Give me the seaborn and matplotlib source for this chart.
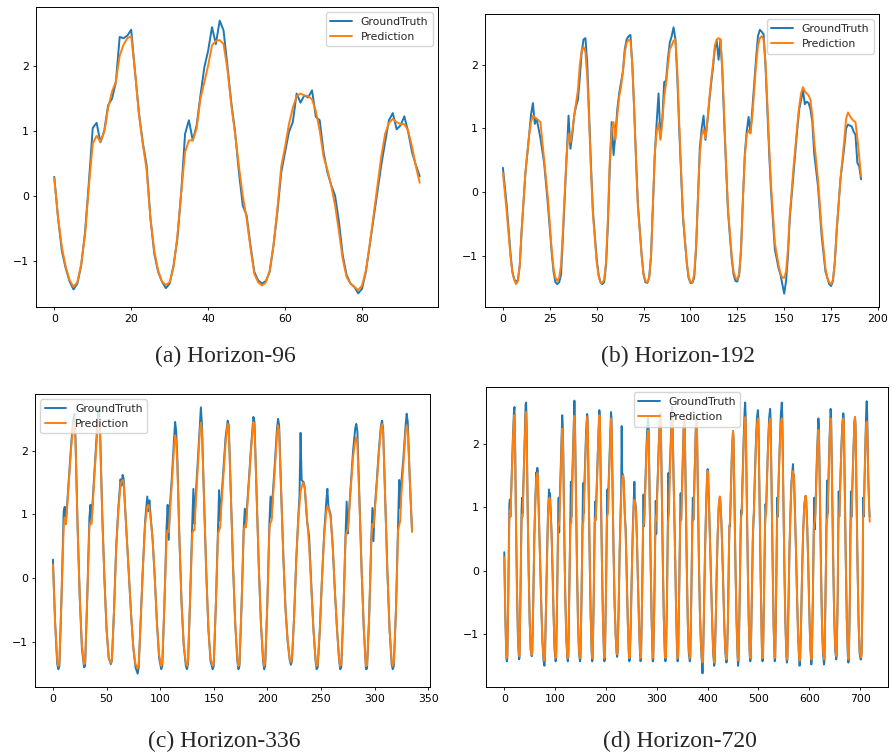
import numpy as np
import pandas as pd
import seaborn as sns
import matplotlib
matplotlib.use("Agg")
import matplotlib.pyplot as plt

sns.set_style("ticks")
plt.rcParams['font.family'] = ['DejaVu Sans']

_BLUE = '#1f77b4'
_ORANGE = '#ff7f0e'

# (a) Horizon-96, one value per step
A_TRUE = [0.29, -0.35, -0.86, -1.12, -1.32, -1.44, -1.35, -1.07, -0.56, 0.21,
          1.04, 1.12, 0.82, 1.0, 1.39, 1.49, 1.74, 2.44, 2.42, 2.46,
          2.55, 1.9, 1.28, 0.82, 0.47, -0.35, -0.89, -1.17, -1.32, -1.42,
          -1.35, -1.07, -0.66, 0.05, 0.95, 1.16, 0.85, 1.08, 1.54, 1.97,
          2.23, 2.59, 2.33, 2.69, 2.54, 2.0, 1.44, 0.98, 0.36, -0.15,
          -0.3, -0.76, -1.17, -1.3, -1.35, -1.31, -1.17, -0.76, -0.25, 0.36,
          0.67, 0.98, 1.13, 1.57, 1.43, 1.54, 1.51, 1.62, 1.21, 1.16,
          0.67, 0.36, 0.16, 0.0, -0.4, -0.92, -1.22, -1.35, -1.4, -1.5,
          -1.43, -1.17, -0.76, -0.35, 0.06, 0.47, 0.82, 1.16, 1.27, 1.02,
          1.08, 1.22, 0.98, 0.67, 0.47, 0.3]
A_PRED = [0.27, -0.35, -0.8, -1.1, -1.3, -1.4, -1.33, -1.05, -0.6, 0.15,
          0.8, 0.92, 0.83, 0.98, 1.35, 1.6, 1.75, 2.15, 2.32, 2.42,
          2.45, 1.9, 1.25, 0.8, 0.4, -0.35, -0.85, -1.15, -1.32, -1.37,
          -1.33, -1.1, -0.62, 0.05, 0.67, 0.85, 0.85, 1.03, 1.49, 1.74,
          2.0, 2.31, 2.38, 2.39, 2.33, 1.95, 1.4, 0.95, 0.45, 0.0,
          -0.35, -0.8, -1.2, -1.33, -1.38, -1.33, -1.15, -0.75, -0.2, 0.45,
          0.75, 1.1, 1.35, 1.53, 1.57, 1.54, 1.53, 1.48, 1.3, 1.0,
          0.6, 0.4, 0.15, -0.15, -0.55, -0.98, -1.25, -1.35, -1.4, -1.45,
          -1.38, -1.15, -0.75, -0.3, 0.15, 0.6, 0.95, 1.12, 1.18, 1.13,
          1.1, 1.1, 1.0, 0.75, 0.45, 0.2]

# (b) Horizon-192, (step, value) points
B_TRUE = [(0, 0.38), (2, -0.2), (4, -0.95), (5, -1.25), (6, -1.37), (7, -1.42), (8, -1.38), (9, -1.15),
          (10, -0.6), (12, 0.3), (14, 0.9), (15, 1.22), (16, 1.4), (17, 1.07), (18, 1.15), (19, 1.0),
          (20, 0.85), (22, 0.45), (24, -0.2), (26, -0.95), (27, -1.25), (28, -1.42), (29, -1.45),
          (30, -1.42), (31, -1.3), (32, -0.7), (34, 0.55), (35, 1.2), (36, 0.68), (37, 0.9), (38, 1.2),
          (39, 1.35), (40, 1.45), (41, 1.8), (42, 2.2), (43, 2.4), (44, 2.42), (45, 2.0), (46, 1.2),
          (47, 0.4), (48, -0.3), (50, -1.05), (51, -1.3), (52, -1.42), (53, -1.45), (54, -1.42),
          (55, -1.15), (56, -0.5), (57, 0.4), (58, 1.1), (59, 0.58), (60, 0.9), (61, 1.3), (62, 1.55),
          (63, 1.73), (64, 1.9), (65, 2.25), (66, 2.4), (67, 2.45), (68, 2.47), (69, 2.0), (70, 1.3),
          (71, 0.5), (72, -0.2), (74, -1.0), (75, -1.3), (76, -1.42), (77, -1.43), (78, -1.35),
          (79, -1.0), (80, -0.2), (81, 0.6), (82, 1.1), (83, 1.55), (84, 0.85), (85, 1.15), (86, 1.73),
          (87, 1.75), (88, 2.1), (89, 2.35), (90, 2.45), (91, 2.59), (92, 2.4), (93, 1.8), (94, 1.0),
          (95, 0.3), (96, -0.4), (98, -1.1), (99, -1.35), (100, -1.43), (101, -1.43), (102, -1.35),
          (103, -0.9), (104, -0.1), (105, 0.7), (106, 1.0), (107, 1.2), (108, 0.82), (109, 1.1),
          (110, 1.4), (111, 1.7), (112, 1.95), (113, 2.25), (114, 2.38), (115, 2.08), (116, 2.4),
          (117, 1.9), (118, 1.1), (119, 0.4), (120, -0.3), (122, -1.05), (123, -1.3), (124, -1.4),
          (125, -1.41), (126, -1.3), (127, -0.9), (128, -0.1), (129, 0.6), (130, 0.95), (131, 1.18),
          (132, 0.93), (133, 1.3), (134, 1.7), (135, 2.1), (136, 2.45), (137, 2.55), (138, 2.52),
          (139, 2.48), (140, 2.0), (141, 1.3), (142, 0.6), (143, 0.0), (145, -0.9), (147, -1.2),
          (148, -1.3), (149, -1.45), (150, -1.6), (151, -1.4), (152, -1.0), (153, -0.4), (155, 0.3),
          (157, 1.0), (158, 1.3), (159, 1.45), (160, 1.6), (161, 1.38), (162, 1.42), (163, 1.4),
          (164, 1.3), (165, 1.1), (166, 0.6), (168, 0.1), (170, -0.7), (172, -1.25), (173, -1.35),
          (174, -1.45), (175, -1.48), (176, -1.4), (177, -1.1), (178, -0.6), (180, 0.2), (182, 0.7),
          (183, 1.0), (184, 1.06), (186, 1.03), (187, 0.95), (188, 0.9), (189, 0.46), (190, 0.4),
          (191, 0.2)]
B_PRED = [(0, 0.3), (2, -0.3), (4, -1.0), (5, -1.25), (6, -1.38), (7, -1.45), (8, -1.4), (9, -1.15),
          (10, -0.6), (12, 0.3), (14, 0.9), (15, 1.1), (16, 1.2), (18, 1.15), (20, 1.1), (22, 0.5),
          (24, -0.1), (26, -0.9), (27, -1.2), (28, -1.35), (29, -1.4), (30, -1.35), (31, -1.15),
          (32, -0.6), (34, 0.6), (35, 0.92), (36, 0.78), (37, 0.95), (38, 1.2), (40, 1.6), (41, 2.0),
          (42, 2.22), (43, 2.28), (44, 2.2), (45, 1.8), (46, 1.1), (47, 0.3), (48, -0.35), (50, -1.1),
          (51, -1.32), (52, -1.42), (53, -1.43), (54, -1.38), (55, -1.1), (56, -0.4), (57, 0.5),
          (58, 0.98), (59, 1.1), (60, 0.82), (61, 1.2), (62, 1.5), (63, 1.65), (64, 1.9), (65, 2.2),
          (66, 2.35), (67, 2.39), (68, 2.38), (69, 2.0), (70, 1.3), (71, 0.5), (72, -0.25), (74, -1.0),
          (75, -1.3), (76, -1.4), (77, -1.42), (78, -1.35), (79, -1.0), (80, -0.2), (81, 0.6),
          (82, 0.95), (83, 1.08), (84, 0.82), (85, 1.1), (86, 1.5), (87, 1.7), (88, 2.0), (89, 2.25),
          (90, 2.3), (91, 2.38), (92, 2.4), (93, 1.9), (94, 1.1), (95, 0.35), (96, -0.35), (98, -1.1),
          (99, -1.33), (100, -1.42), (101, -1.42), (102, -1.3), (103, -0.85), (104, -0.1), (105, 0.6),
          (106, 0.9), (107, 0.98), (108, 0.85), (109, 1.1), (110, 1.45), (111, 1.75), (112, 2.0),
          (113, 2.3), (114, 2.4), (115, 2.42), (116, 2.4), (117, 1.95), (118, 1.2), (119, 0.45),
          (120, -0.25), (122, -1.0), (123, -1.25), (124, -1.35), (125, -1.38), (126, -1.28),
          (127, -0.9), (128, -0.1), (129, 0.55), (130, 0.9), (131, 0.97), (132, 0.92), (133, 1.2),
          (134, 1.6), (135, 2.0), (136, 2.3), (137, 2.42), (138, 2.45), (139, 2.4), (140, 2.05),
          (141, 1.4), (142, 0.7), (143, 0.1), (145, -0.8), (147, -1.15), (148, -1.28), (149, -1.35),
          (150, -1.35), (151, -1.25), (152, -0.9), (153, -0.35), (155, 0.4), (157, 1.05), (158, 1.35),
          (159, 1.55), (160, 1.65), (161, 1.58), (162, 1.55), (163, 1.52), (164, 1.45), (165, 1.2),
          (166, 0.8), (168, 0.2), (170, -0.6), (172, -1.2), (173, -1.35), (174, -1.42), (175, -1.45),
          (176, -1.38), (177, -1.1), (178, -0.6), (180, 0.2), (182, 0.8), (183, 1.15), (184, 1.25),
          (185, 1.2), (186, 1.15), (187, 1.12), (188, 1.1), (189, 0.85), (190, 0.55), (191, 0.25)]

# (c) Horizon-336
C_TRUE = [(0, 0.29), (2, -0.7), (4, -1.35), (5, -1.43), (6, -1.38), (8, -0.3), (10, 1.05), (11, 1.12),
          (12, 0.85), (13, 1.1), (15, 1.6), (17, 2.1), (19, 2.5), (20, 2.58), (21, 2.2), (23, 0.8),
          (25, -0.3), (27, -1.1), (29, -1.4), (30, -1.38), (32, -0.3), (34, 0.95), (35, 1.15), (36, 0.9),
          (37, 1.2), (39, 1.75), (41, 2.3), (42, 2.62), (43, 2.65), (44, 2.3), (46, 1.0), (48, 0.0),
          (50, -0.8), (52, -1.25), (54, -1.35), (55, -1.3), (57, -0.5), (59, 0.5), (61, 1.1), (63, 1.55),
          (64, 1.45), (65, 1.62), (66, 1.55), (67, 1.2), (69, 0.6), (71, 0.0), (73, -0.6), (75, -1.1),
          (77, -1.4), (79, -1.5), (80, -1.4), (82, -0.6), (84, 0.2), (86, 0.9), (88, 1.28), (89, 1.05),
          (90, 1.22), (91, 1.0), (93, 0.6), (95, 0.0), (97, -0.7), (99, -1.25), (101, -1.43),
          (102, -1.38), (104, -0.4), (106, 0.8), (107, 1.15), (108, 0.6), (109, 1.1), (111, 1.6),
          (113, 2.2), (114, 2.45), (115, 2.3), (116, 1.9), (118, 0.6), (120, -0.4), (122, -1.05),
          (124, -1.38), (125, -1.43), (126, -1.35), (128, -0.3), (130, 0.9), (131, 1.4), (132, 0.85),
          (133, 1.25), (135, 1.8), (137, 2.4), (138, 2.68), (139, 2.4), (141, 1.2), (143, 0.1),
          (145, -0.8), (147, -1.3), (149, -1.43), (150, -1.38), (152, -0.4), (154, 0.8), (155, 1.38),
          (156, 0.9), (157, 1.2), (159, 1.7), (161, 2.2), (163, 2.47), (164, 2.4), (166, 1.3),
          (168, 0.2), (170, -0.7), (172, -1.3), (173, -1.43), (174, -1.38), (176, -0.4), (178, 0.8),
          (179, 1.09), (180, 0.8), (181, 1.1), (183, 1.6), (185, 2.1), (187, 2.53), (188, 2.45),
          (190, 1.3), (192, 0.2), (194, -0.7), (196, -1.3), (197, -1.43), (198, -1.38), (200, -0.4),
          (202, 0.9), (203, 1.28), (204, 0.95), (205, 1.3), (207, 1.8), (209, 2.35), (210, 2.5),
          (211, 2.4), (213, 1.3), (215, 0.3), (217, -0.5), (219, -1.0), (221, -1.3), (222, -1.36),
          (223, -1.3), (225, -0.6), (227, 0.3), (229, 1.0), (230, 1.3), (231, 2.28), (232, 1.54),
          (234, 1.5), (235, 1.4), (237, 0.9), (239, 0.65), (241, -0.1), (243, -0.8), (245, -1.3),
          (246, -1.43), (247, -1.4), (249, -0.8), (251, 0.0), (253, 0.7), (255, 1.2), (256, 1.4),
          (257, 1.12), (259, 1.0), (261, 0.5), (263, -0.2), (265, -0.8), (267, -1.3), (268, -1.43),
          (269, -1.4), (271, -0.5), (273, 0.7), (274, 1.2), (275, 0.7), (276, 1.0), (278, 1.5),
          (280, 2.0), (282, 2.35), (283, 2.42), (284, 2.3), (286, 1.2), (288, 0.1), (290, -0.8),
          (292, -1.43), (293, -1.42), (295, -0.6), (297, 0.6), (298, 1.1), (299, 0.58), (300, 1.05),
          (302, 1.5), (304, 2.0), (306, 2.4), (307, 2.47), (308, 2.35), (310, 1.2), (312, 0.1),
          (314, -0.8), (316, -1.35), (317, -1.43), (318, -1.38), (320, -0.5), (322, 0.9), (323, 1.54),
          (324, 1.1), (325, 1.5), (327, 1.9), (329, 2.4), (330, 2.58), (331, 2.45), (333, 1.5),
          (335, 0.73)]
C_PRED = [(0, 0.21), (2, -0.7), (4, -1.3), (5, -1.38), (6, -1.33), (8, -0.3), (10, 0.8), (11, 0.95),
          (12, 0.85), (13, 1.05), (15, 1.55), (17, 2.05), (19, 2.4), (20, 2.45), (21, 2.15), (23, 0.8),
          (25, -0.3), (27, -1.05), (29, -1.35), (30, -1.33), (32, -0.3), (34, 0.8), (35, 0.88),
          (36, 0.85), (37, 1.1), (39, 1.7), (41, 2.2), (42, 2.45), (43, 2.5), (44, 2.2), (46, 0.95),
          (48, 0.0), (50, -0.8), (52, -1.25), (54, -1.33), (55, -1.28), (57, -0.5), (59, 0.45),
          (61, 1.05), (63, 1.45), (64, 1.52), (65, 1.54), (66, 1.5), (67, 1.2), (69, 0.6), (71, 0.0),
          (73, -0.6), (75, -1.1), (77, -1.35), (79, -1.42), (80, -1.35), (82, -0.6), (84, 0.2),
          (86, 0.85), (88, 1.12), (89, 1.15), (90, 1.1), (91, 0.95), (93, 0.6), (95, 0.0), (97, -0.7),
          (99, -1.2), (101, -1.38), (102, -1.33), (104, -0.4), (106, 0.65), (107, 0.75), (108, 0.72),
          (109, 1.0), (111, 1.5), (113, 2.05), (114, 2.24), (115, 2.15), (116, 1.8), (118, 0.6),
          (120, -0.4), (122, -1.05), (124, -1.33), (125, -1.38), (126, -1.3), (128, -0.3), (130, 0.7),
          (131, 0.75), (132, 0.75), (133, 1.1), (135, 1.7), (137, 2.3), (138, 2.44), (139, 2.3),
          (141, 1.2), (143, 0.1), (145, -0.8), (147, -1.25), (149, -1.38), (150, -1.33), (152, -0.4),
          (154, 0.7), (155, 0.75), (156, 0.8), (157, 1.1), (159, 1.6), (161, 2.1), (163, 2.42),
          (164, 2.35), (166, 1.3), (168, 0.2), (170, -0.7), (172, -1.25), (173, -1.38), (174, -1.33),
          (176, -0.4), (178, 0.75), (179, 0.83), (180, 0.8), (181, 1.05), (183, 1.55), (185, 2.05),
          (187, 2.45), (188, 2.4), (190, 1.3), (192, 0.2), (194, -0.7), (196, -1.25), (197, -1.38),
          (198, -1.33), (200, -0.4), (202, 0.8), (203, 0.88), (204, 0.9), (205, 1.2), (207, 1.7),
          (209, 2.25), (210, 2.4), (211, 2.3), (213, 1.3), (215, 0.3), (217, -0.5), (219, -1.0),
          (221, -1.28), (222, -1.32), (223, -1.26), (225, -0.6), (227, 0.3), (229, 0.95), (231, 1.35),
          (233, 1.5), (234, 1.48), (235, 1.4), (237, 0.95), (239, 0.5), (241, -0.15), (243, -0.8),
          (245, -1.28), (246, -1.38), (247, -1.35), (249, -0.8), (251, 0.0), (253, 0.65), (255, 1.05),
          (256, 1.12), (257, 1.1), (259, 0.95), (261, 0.5), (263, -0.2), (265, -0.8), (267, -1.28),
          (268, -1.38), (269, -1.35), (271, -0.5), (273, 0.65), (274, 0.73), (275, 0.75), (276, 0.95),
          (278, 1.45), (280, 1.9), (282, 2.15), (283, 2.21), (284, 2.1), (286, 1.15), (288, 0.1),
          (290, -0.8), (292, -1.38), (293, -1.37), (295, -0.6), (297, 0.6), (298, 0.85), (299, 0.8),
          (300, 1.0), (302, 1.45), (304, 1.95), (306, 2.35), (307, 2.42), (308, 2.3), (310, 1.2),
          (312, 0.1), (314, -0.8), (316, -1.3), (317, -1.38), (318, -1.33), (320, -0.5), (322, 0.75),
          (323, 0.83), (324, 0.9), (325, 1.3), (327, 1.8), (329, 2.3), (330, 2.4), (331, 2.3),
          (333, 1.5), (335, 0.73)]

# (d) Horizon-720: its first 336 steps are the same window as (c)
D_TRUE_TAIL = [(336, 0.3), (338, -0.6), (340, -1.3), (341, -1.43), (342, -1.38), (344, -0.4), (346, 0.8),
               (347, 1.22), (348, 0.8), (349, 1.1), (351, 1.7), (353, 2.3), (354, 2.45), (355, 2.35),
               (357, 1.2), (359, 0.1), (361, -0.8), (363, -1.3), (365, -1.43), (366, -1.38), (368, -0.4),
               (370, 0.8), (371, 1.15), (372, 0.8), (373, 1.1), (375, 1.7), (377, 2.3), (378, 2.42),
               (379, 2.3), (381, 1.2), (383, 0.1), (385, -0.7), (387, -1.2), (389, -1.5), (390, -1.62),
               (391, -1.45), (393, -0.6), (395, 0.3), (397, 1.0), (399, 1.5), (400, 1.6), (401, 1.55),
               (403, 1.0), (405, 0.4), (407, -0.2), (409, -0.8), (411, -1.3), (413, -1.5), (414, -1.45),
               (416, -0.8), (418, 0.0), (420, 0.6), (422, 1.0), (424, 1.15), (425, 1.1), (427, 0.8),
               (429, 0.3), (431, -0.3), (433, -0.9), (435, -1.3), (437, -1.45), (438, -1.42), (440, -0.8),
               (442, 0.3), (443, 0.7), (444, 0.7), (446, 1.3), (448, 1.9), (450, 2.2), (451, 2.1),
               (453, 1.0), (455, 0.0), (457, -0.8), (459, -1.35), (460, -1.5), (461, -1.42), (463, -0.5),
               (465, 0.6), (466, 0.95), (467, 0.9), (469, 1.5), (471, 2.1), (473, 2.55), (474, 2.65),
               (475, 2.4), (477, 1.2), (479, 0.1), (481, -0.8), (483, -1.35), (484, -1.43), (485, -1.38),
               (487, -0.4), (489, 0.5), (490, 0.72), (491, 0.9), (493, 1.5), (495, 2.0), (497, 2.4),
               (499, 2.53), (500, 2.4), (502, 1.2), (504, 0.1), (506, -0.9), (507, -1.3), (508, -1.43),
               (509, -1.38), (511, -0.4), (513, 0.7), (514, 1.05), (515, 0.9), (517, 1.5), (519, 2.0),
               (521, 2.4), (523, 2.55), (524, 2.4), (526, 1.2), (528, 0.1), (530, -0.9), (532, -1.43),
               (533, -1.4), (535, -0.3), (537, 1.15), (538, 0.85), (540, 1.5), (542, 2.0), (544, 2.45),
               (546, 2.65), (547, 2.45), (549, 1.2), (551, 0.1), (553, -0.8), (555, -1.35), (556, -1.45),
               (557, -1.4), (559, -0.6), (561, 0.3), (563, 0.9), (565, 1.4), (567, 1.6), (568, 1.68),
               (569, 1.5), (570, 1.5), (572, 0.9), (574, 0.3), (576, -0.4), (578, -1.0), (580, -1.4),
               (581, -1.5), (582, -1.42), (584, -0.8), (586, 0.0), (588, 0.6), (590, 1.0), (592, 1.15),
               (593, 1.18), (594, 1.1), (596, 0.7), (598, 0.1), (600, -0.6), (602, -1.2), (604, -1.48),
               (605, -1.42), (607, -0.5), (609, 0.7), (610, 1.15), (611, 0.65), (612, 0.9), (614, 1.5),
               (616, 2.0), (618, 2.4), (619, 2.3), (621, 1.2), (623, 0.1), (625, -0.8), (627, -1.3),
               (629, -1.48), (630, -1.42), (632, -0.4), (634, 0.8), (635, 1.42), (636, 0.9), (638, 1.5),
               (640, 2.1), (642, 2.55), (643, 2.45), (645, 1.3), (647, 0.2), (649, -0.7), (651, -1.25),
               (653, -1.4), (654, -1.35), (656, -0.4), (657, 0.6), (658, 1.25), (659, 0.85), (661, 1.4),
               (663, 1.9), (665, 2.3), (667, 2.48), (668, 2.4), (670, 1.2), (672, 0.1), (674, -0.8),
               (676, -1.35), (677, -1.45), (678, -1.4), (680, -0.4), (681, 0.6), (682, 1.25), (683, 0.85),
               (685, 1.4), (687, 1.9), (689, 2.35), (690, 2.42), (691, 2.3), (693, 1.2), (695, 0.1),
               (697, -0.8), (699, -1.3), (701, -1.4), (702, -1.4), (703, -1.3), (705, -0.3), (706, 1.15),
               (707, 0.85), (709, 1.5), (711, 2.2), (712, 2.5), (713, 2.67), (714, 2.5), (716, 1.5),
               (718, 1.0), (719, 0.85)]
D_PRED_TAIL = [(336, 0.3), (338, -0.6), (340, -1.25), (341, -1.38), (342, -1.33), (344, -0.4), (346, 0.7),
               (347, 0.8), (348, 0.82), (349, 1.05), (351, 1.65), (353, 2.25), (354, 2.4), (355, 2.3),
               (357, 1.2), (359, 0.1), (361, -0.8), (363, -1.25), (365, -1.38), (366, -1.33), (368, -0.4),
               (370, 0.7), (371, 0.8), (372, 0.82), (373, 1.05), (375, 1.65), (377, 2.25), (378, 2.4),
               (379, 2.3), (381, 1.2), (383, 0.1), (385, -0.7), (387, -1.15), (389, -1.4), (390, -1.45),
               (391, -1.38), (393, -0.6), (395, 0.3), (397, 0.95), (399, 1.45), (400, 1.57), (401, 1.52),
               (403, 1.0), (405, 0.4), (407, -0.2), (409, -0.8), (411, -1.25), (413, -1.45), (414, -1.4),
               (416, -0.8), (418, 0.0), (420, 0.6), (422, 1.05), (424, 1.17), (425, 1.12), (427, 0.8),
               (429, 0.3), (431, -0.3), (433, -0.9), (435, -1.25), (437, -1.4), (438, -1.38), (440, -0.8),
               (442, 0.3), (443, 0.72), (444, 0.76), (446, 1.3), (448, 1.9), (450, 2.2), (451, 2.1),
               (453, 1.0), (455, 0.0), (457, -0.8), (459, -1.3), (460, -1.42), (461, -1.37), (463, -0.5),
               (465, 0.6), (466, 0.85), (467, 0.88), (469, 1.45), (471, 2.0), (473, 2.35), (474, 2.42),
               (475, 2.3), (477, 1.2), (479, 0.1), (481, -0.8), (483, -1.3), (484, -1.38), (485, -1.33),
               (487, -0.4), (489, 0.5), (490, 0.82), (491, 0.9), (493, 1.45), (495, 1.95), (497, 2.3),
               (499, 2.4), (500, 2.3), (502, 1.2), (504, 0.1), (506, -0.9), (507, -1.25), (508, -1.38),
               (509, -1.33), (511, -0.4), (513, 0.7), (514, 0.85), (515, 0.9), (517, 1.45), (519, 1.95),
               (521, 2.3), (523, 2.4), (524, 2.3), (526, 1.2), (528, 0.1), (530, -0.9), (532, -1.38),
               (533, -1.35), (535, -0.3), (537, 0.85), (538, 0.88), (540, 1.45), (542, 1.95), (544, 2.3),
               (546, 2.4), (547, 2.3), (549, 1.2), (551, 0.1), (553, -0.8), (555, -1.3), (556, -1.4),
               (557, -1.35), (559, -0.6), (561, 0.3), (563, 0.9), (565, 1.35), (567, 1.52), (568, 1.57),
               (569, 1.52), (570, 1.45), (572, 0.9), (574, 0.3), (576, -0.4), (578, -1.0), (580, -1.35),
               (581, -1.42), (582, -1.37), (584, -0.8), (586, 0.0), (588, 0.6), (590, 1.0), (592, 1.15),
               (593, 1.18), (594, 1.12), (596, 0.7), (598, 0.1), (600, -0.6), (602, -1.15), (604, -1.4),
               (605, -1.37), (607, -0.5), (609, 0.65), (610, 0.75), (611, 0.78), (612, 0.9), (614, 1.45),
               (616, 1.95), (618, 2.22), (619, 2.15), (621, 1.2), (623, 0.1), (625, -0.8), (627, -1.25),
               (629, -1.4), (630, -1.37), (632, -0.4), (634, 0.7), (635, 0.8), (636, 0.85), (638, 1.45),
               (640, 2.0), (642, 2.4), (643, 2.32), (645, 1.3), (647, 0.2), (649, -0.7), (651, -1.2),
               (653, -1.35), (654, -1.3), (656, -0.4), (657, 0.6), (658, 0.85), (659, 0.85), (661, 1.35),
               (663, 1.85), (665, 2.25), (667, 2.4), (668, 2.32), (670, 1.2), (672, 0.1), (674, -0.8),
               (676, -1.3), (677, -1.4), (678, -1.35), (680, -0.4), (681, 0.6), (682, 0.8), (683, 0.85),
               (685, 1.4), (687, 1.9), (689, 2.35), (690, 2.42), (691, 2.3), (693, 1.2), (695, 0.1),
               (697, -0.8), (699, -1.25), (701, -1.35), (702, -1.37), (703, -1.3), (705, -0.3), (706, 0.85),
               (707, 0.88), (709, 1.45), (711, 2.1), (712, 2.3), (713, 2.35), (714, 2.25), (716, 1.5),
               (718, 0.95), (719, 0.77)]

CAPTIONS = ['(a) Horizon-96', '(b) Horizon-192', '(c) Horizon-336', '(d) Horizon-720']


def to_frame(points):
    return pd.DataFrame(points, columns=['step', 'value'])


panels = [
    (to_frame(list(enumerate(A_TRUE))), to_frame(list(enumerate(A_PRED))), 'upper right'),
    (to_frame(B_TRUE), to_frame(B_PRED), 'upper right'),
    (to_frame(C_TRUE), to_frame(C_PRED), 'upper left'),
    (to_frame(C_TRUE + D_TRUE_TAIL), to_frame(C_PRED + D_PRED_TAIL), 'upper center'),
]

# axes boxes in pixels: left, top, right, bottom
boxes = [(36, 7, 438, 307), (485, 14, 879, 307), (35, 394, 430, 687), (486, 387, 888, 687)]
caption_xy = [(225, 356), (678, 356), (224, 741), (680, 741)]

W, H = 891, 755
fig = plt.figure(figsize=(W / 100, H / 100), dpi=100)

for (gt, pr, loc), (l, t, r, b), cap, (cx, cy) in zip(panels, boxes, CAPTIONS, caption_xy):
    ax = fig.add_axes([l / W, 1 - b / H, (r - l) / W, (b - t) / H])
    sns.lineplot(data=gt, x='step', y='value', ax=ax, color=_BLUE, linewidth=1.4,
                 estimator=None, sort=False, label='GroundTruth')
    sns.lineplot(data=pr, x='step', y='value', ax=ax, color=_ORANGE, linewidth=1.4,
                 estimator=None, sort=False, label='Prediction')
    ax.set(xlabel=None, ylabel=None)
    ax.tick_params(labelsize=7.8, length=2.5, width=0.6, pad=2.5, colors='black')
    for sp in ax.spines.values():
        sp.set_linewidth(0.7)
        sp.set_color('black')
    ax.grid(False)
    ax.legend(loc=loc, fontsize=7.8, framealpha=0.8, edgecolor='0.8', fancybox=True,
              handlelength=2.0, borderpad=0.4, labelspacing=0.5)
    fig.text(cx / W, 1 - cy / H, cap, ha='center', va='center',
             family=['Liberation Serif', 'DejaVu Serif'], fontsize=17)

fig.savefig('out.png', dpi=100, facecolor='white')
